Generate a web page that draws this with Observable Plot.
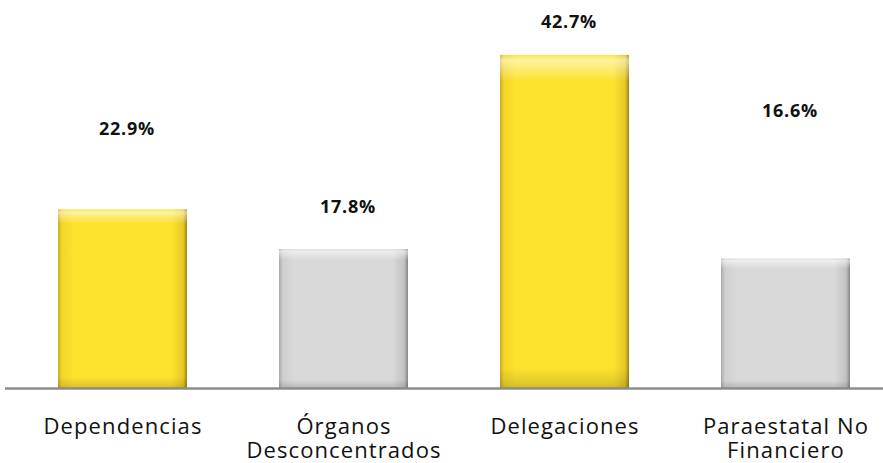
<!DOCTYPE html>
<html>
<head>
<meta charset="utf-8">
<script src="https://cdn.jsdelivr.net/npm/d3@7"></script>
<script src="https://cdn.jsdelivr.net/npm/@observablehq/plot@0.6"></script>
<style>
  html, body { margin: 0; padding: 0; background: #fff; }
  #chart svg { display: block; }
  .cat-axis text { letter-spacing: 1.1px; }
  .val-labels text { letter-spacing: 0.8px; }
</style>
</head>
<body>
<div id="chart"></div>
<script>
const categories = ["Dependencias", "Órganos Desconcentrados", "Delegaciones", "Paraestatal No Financiero"];
const tickLabels = ["Dependencias", "Órganos\nDesconcentrados", "Delegaciones", "Paraestatal No\nFinanciero"];
const values = [22.9, 17.8, 42.7, 16.6];
const valueLabels = ["22.9%", "17.8%", "42.7%", "16.6%"];
const labelAt = [33.2, 23.2, 46.9, 35.6];
const highlight = [true, false, true, false];

const data = categories.map((c, i) => ({
  cat: c, value: values[i], label: valueLabels[i], labelAt: labelAt[i], hi: highlight[i]
}));
const tickMap = new Map(categories.map((c, i) => [c, tickLabels[i]]));

const chart = Plot.plot({
  width: 883,
  height: 463,
  marginLeft: 5,
  marginRight: 0,
  marginTop: 0,
  marginBottom: 75,
  style: { fontFamily: "Open Sans, sans-serif", background: "#fff" },
  x: { type: "band", domain: categories, range: [10, 897], paddingInner: 0.418, paddingOuter: 0.209 },
  y: { domain: [0, 50], range: [388, -2], axis: null },
  marks: [
    Plot.barY(data, { x: "cat", y: "value", fill: d => d.hi ? "url(#gYellow)" : "url(#gGray)" }),
    Plot.barY(data, { x: "cat", y: "value", fill: "url(#gBevel)" }),
    Plot.ruleY([0], { stroke: "#8c8c8c", strokeWidth: 2.5 }),
    Plot.text(data, { x: "cat", y: "labelAt", text: "label", dx: 4, fontSize: 18, fontWeight: "bold", fill: "#111", fontFamily: "Open Sans, sans-serif", className: "val-labels" }),
    Plot.axisX({ tickSize: 0, tickPadding: 29, fontSize: 22, lineHeight: 1.08, tickFormat: d => tickMap.get(d), label: null, fill: "#111", fontWeight: 400, className: "cat-axis" })
  ]
});

const ns = "http://www.w3.org/2000/svg";
const defs = document.createElementNS(ns, "defs");
defs.innerHTML = `
  <linearGradient id="gYellow" x1="0" y1="0" x2="1" y2="0">
    <stop offset="0" stop-color="#c9ad17"/>
    <stop offset="0.03" stop-color="#f2d62a"/>
    <stop offset="0.12" stop-color="#fde22e"/>
    <stop offset="0.88" stop-color="#fde22e"/>
    <stop offset="0.97" stop-color="#e6c925"/>
    <stop offset="1" stop-color="#9c8510"/>
  </linearGradient>
  <linearGradient id="gGray" x1="0" y1="0" x2="1" y2="0">
    <stop offset="0" stop-color="#a8a8a8"/>
    <stop offset="0.03" stop-color="#cfcfcf"/>
    <stop offset="0.12" stop-color="#d9d9d9"/>
    <stop offset="0.88" stop-color="#d9d9d9"/>
    <stop offset="0.97" stop-color="#c2c2c2"/>
    <stop offset="1" stop-color="#858585"/>
  </linearGradient>
  <linearGradient id="gBevel" x1="0" y1="0" x2="0" y2="1">
    <stop offset="0" stop-color="#ffffff" stop-opacity="0.1"/>
    <stop offset="0.015" stop-color="#ffffff" stop-opacity="0.55"/>
    <stop offset="0.05" stop-color="#ffffff" stop-opacity="0.25"/>
    <stop offset="0.08" stop-color="#ffffff" stop-opacity="0"/>
    <stop offset="0.94" stop-color="#000000" stop-opacity="0"/>
    <stop offset="0.99" stop-color="#000000" stop-opacity="0.12"/>
    <stop offset="1" stop-color="#000000" stop-opacity="0.2"/>
  </linearGradient>`;
chart.insertBefore(defs, chart.firstChild);
document.getElementById("chart").appendChild(chart);
</script>
</body>
</html>
